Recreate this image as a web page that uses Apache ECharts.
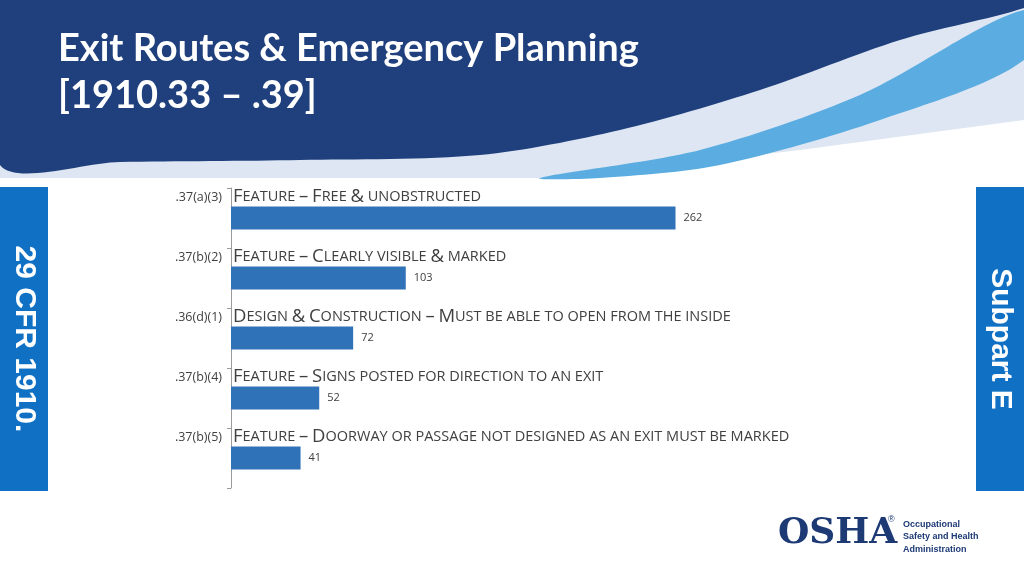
<!DOCTYPE html>
<html><head><meta charset="utf-8">
<script src="https://cdn.jsdelivr.net/npm/echarts@6/dist/echarts.min.js"></script>
<style>html,body{margin:0;padding:0;background:#fff}#c{width:1024px;height:576px}</style>
</head><body><div id="c"></div>
<script>
const codes = ['.37(a)(3)', '.37(b)(2)', '.36(d)(1)', '.37(b)(4)', '.37(b)(5)'];
const titles = [
  'Feature – Free & unobstructed',
  'Feature – Clearly visible & marked',
  'Design & Construction – Must be able to open from the inside',
  'Feature – Signs posted for direction to an exit',
  'Feature – Doorway or passage not designed as an exit must be marked'
];
const counts = [262, 103, 72, 52, 41];

// fake small caps with rich text
function smallCaps(s) {
  let out = '';
  for (const ch of s) {
    if (ch === ' ') out += '{b| }';
    else if (/[a-z]/.test(ch)) out += '{b|' + ch.toUpperCase() + '}';
    else out += '{a|' + ch + '}';
  }
  return out;
}

let chart = echarts.init(document.getElementById('c'));
let option = {
  backgroundColor: '#fff',
  grid: {left: 231, right: 284, top: 188, bottom: 88},
  xAxis: {type: 'value', min: 0, max: 300, show: false},
  yAxis: {
    type: 'category', data: codes, inverse: true,
    axisLine: {lineStyle: {color: '#9a9a9a'}},
    axisTick: {show: true, length: 4, lineStyle: {color: '#9a9a9a'}},
    axisLabel: {show: false}
  },
  series: [
    {
      type: 'bar', data: counts, barWidth: 23, itemStyle: {color: '#2f72b8'},
      label: {show: true, position: 'right', distance: 8, color: '#404040', fontSize: 11, fontFamily: 'Open Sans'}
    },
    {
      type: 'bar', data: counts, barWidth: 23, barGap: '-100%', itemStyle: {color: 'transparent'},
      label: {
        show: true, position: [2, -19],
        formatter: p => smallCaps(titles[p.dataIndex]),
        rich: {
          a: {fontSize: 18.5, color: '#404040', fontFamily: 'Open Sans'},
          b: {fontSize: 14.5, color: '#404040', fontFamily: 'Open Sans'}
        }
      }
    },
    {
      type: 'bar', data: counts, barWidth: 23, barGap: '-100%', itemStyle: {color: 'transparent'},
      label: {
        show: true, position: [-9, -16], align: 'right',
        formatter: p => codes[p.dataIndex],
        color: '#404040', fontSize: 12.5, fontFamily: 'Open Sans'
      }
    }
  ],
  graphic: [
    {type: 'polygon', z: -10, shape: {points: [[0,0],[1024,0],[1024,120],[800,150],[560,178],[0,178]]}, style: {fill: '#dde6f2'}},
    {type: 'polygon', z: -9, shape: {points: [[0,0],[1024,0],[1024,8],[900,40],[760,90],[620,130],[480,155],[300,160],[120,162],[0,165]], smooth: 0.3}, style: {fill: '#1f3f7d'}},
    {type: 'polygon', z: -8, shape: {points: [[540,178],[700,150],[860,95],[1024,10],[1024,60],[880,120],[720,165],[600,178]], smooth: 0.3}, style: {fill: '#5bace0'}},
    {type: 'text', left: 58, top: 25, style: {text: 'Exit Routes & Emergency Planning\n[1910.33 – .39]', fill: '#fff', font: 'bold 38px Lato', lineHeight: 47}},
    {type: 'rect', shape: {x: 0, y: 187, width: 48, height: 304}, style: {fill: '#1071c4'}},
    {type: 'rect', shape: {x: 976, y: 187, width: 48, height: 304}, style: {fill: '#1071c4'}},
    {type: 'text', x: 24, y: 339, rotation: -Math.PI / 2, style: {text: '29 CFR 1910.', fill: '#fff', font: 'bold 30px "Liberation Sans"', align: 'center', verticalAlign: 'middle'}},
    {type: 'text', x: 1000, y: 339, rotation: -Math.PI / 2, style: {text: 'Subpart E', fill: '#fff', font: 'bold 30px "Liberation Sans"', align: 'center', verticalAlign: 'middle'}},
    {type: 'text', left: 778, top: 516, style: {text: 'OSHA', fill: '#1d3a75', font: 'bold 36px "DejaVu Serif"'}},
    {type: 'text', left: 888, top: 515, style: {text: '®', fill: '#1d3a75', font: '9px "Liberation Sans"'}},
    {type: 'text', left: 903, top: 518, style: {text: 'Occupational\nSafety and Health\nAdministration', fill: '#1d3a75', font: 'bold 9px "Liberation Sans"', lineHeight: 12.5}}
  ]
};
chart.setOption(option);
</script></body></html>
